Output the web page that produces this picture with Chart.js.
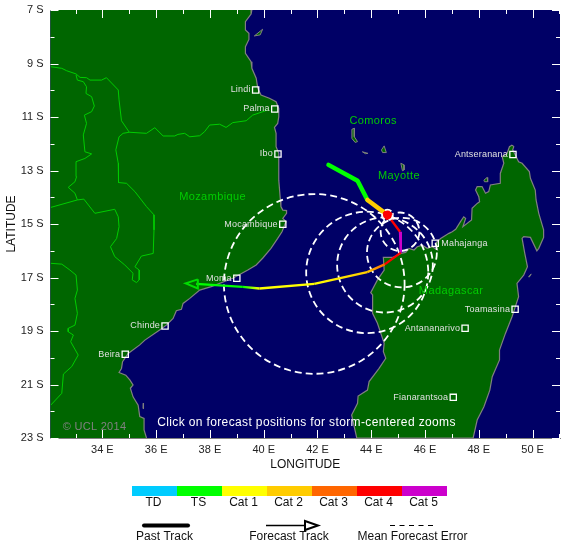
<!DOCTYPE html>
<html>
<head>
<meta charset="utf-8">
<title>Storm track</title>
<script src="https://cdn.jsdelivr.net/npm/chart.js@4"></script>
<style>
html, body { margin: 0; padding: 0; background: #fff; }
canvas { display: block; }
</style>
</head>
<body>
<canvas id="map" width="580" height="552"></canvas>
<script>
// Axis ticks (degrees east / degrees south)
const lonTicks = [33,34,35,36,37,38,39,40,41,42,43,44,45,46,47,48,49,50,51];
const latTicks = [7,8,9,10,11,12,13,14,15,16,17,18,19,20,21,22,23];
const lonLabelled = [34,36,38,40,42,44,46,48,50];
const latLabelled = [7,9,11,13,15,17,19,21,23];

// Saffir-Simpson legend
const catNames = ['TD','TS','Cat 1','Cat 2','Cat 3','Cat 4','Cat 5'];
const catColors = ['#00ccff','#00ff00','#ffff00','#ffcc00','#ff6600','#ff0000','#cc00cc'];

// Past track, with the category index of each segment
const pastLon = [42.41,43.49,43.86,44.60];
const pastLat = [12.79,13.38,14.10,14.66];
const pastCats = [1,1,3];

// Forecast track, category at the start and end of each segment
const foreLon = [44.60,45.07,45.10,44.50,43.85,41.88,39.84,39.22,37.49];
const foreLat = [14.66,15.29,16.07,16.51,16.80,17.24,17.41,17.35,17.24];
const foreCatStart = [5,6,5,4,3,2,2,1];
const foreCatEnd   = [5,6,5,3,2,2,1,1];

// Arrow head at the end of the forecast
const headLon = [37.55,37.10,37.55,37.55];
const headLat = [17.07,17.22,17.41,17.07];

// Mean forecast error circles, radius in degrees
const errLon = [41.88,43.85,44.51,45.14,45.07];
const errLat = [17.24,16.81,16.53,16.07,15.29];
const errRadius = [3.36,2.27,1.78,1.30,0.72];
// the smallest one sits around the current position, on top of the dot
const nowRadius = [0.20];

// Cities
const cityNames = ['Lindi','Palma','Ibo','Mocambique','Moma','Chinde','Beira','Antananarivo','Toamasina','Fianarantsoa','Mahajanga','Antseranana'];
const cityLon = [39.70,40.41,40.53,40.71,39.00,36.33,34.85,47.49,49.35,47.05,46.38,49.27];
const cityLat = [9.99,10.70,12.38,15.01,17.03,18.81,19.87,18.90,18.19,21.48,15.72,12.40];

// Region names
const regionNames = ['Mozambique','Comoros','Mayotte','Madagascar'];
const regionLon = [38.10,44.07,45.03,46.97];
const regionLat = [13.99,11.15,13.20,17.50];

// Coastlines [lon, lat south]
const africaCoast = [[39.56,7],[39.53,7.15],[39.32,7.44],[39.32,7.75],[39.45,7.87],[39.45,8.10],[39.32,8.37],[39.32,8.62],[39.53,8.93],[39.56,9.18],[39.72,9.55],[39.78,9.93],[39.90,10.18],[40.21,10.30],[40.46,10.43],[40.56,10.68],[40.56,10.99],[40.52,11.24],[40.40,11.39],[40.46,11.61],[40.46,12.11],[40.56,12.36],[40.56,13.36],[40.62,14.10],[40.64,14.35],[40.71,14.48],[40.85,14.50],[40.85,14.60],[40.71,14.79],[40.83,14.91],[40.68,15.29],[40.52,15.54],[40.27,15.91],[39.96,16.28],[39.72,16.53],[39.41,16.72],[38.85,17.03],[38.05,17.34],[37.62,17.47],[37.25,17.78],[37.00,17.97],[36.94,18.19],[36.75,18.24],[36.63,18.53],[36.38,18.78],[36.13,18.96],[35.58,19.34],[35.39,19.52],[34.96,19.84],[34.75,20.15],[34.71,20.40],[34.62,20.55],[34.87,20.65],[35.02,20.83],[35.14,21.02],[35.04,21.14],[35.14,21.46],[35.33,21.77],[35.39,22.20],[35.55,22.27],[35.55,22.70],[35.64,23]];
const africaCorners = [[31,23.5],[31,6.5],[39.56,6.5]];
const madagascarCoast = [[49.24,12.05],[49.30,12.11],[49.26,12.23],[49.36,12.42],[49.48,12.67],[49.61,12.73],[49.88,13.04],[49.92,13.29],[50.10,13.73],[50.13,14.10],[50.23,14.60],[50.41,15.22],[50.41,15.50],[50.23,15.91],[50.16,16.00],[49.92,15.50],[49.67,15.47],[49.61,15.54],[49.71,16.10],[49.81,16.60],[49.67,16.91],[49.42,17.22],[49.48,17.72],[49.36,18.09],[49.24,18.46],[48.99,19.09],[48.77,19.71],[48.77,20.08],[48.50,20.71],[48.41,21.21],[48.19,21.83],[47.94,22.33],[47.79,23],[43.46,23],[43.27,22.14],[43.49,21.70],[43.51,21.43],[43.86,21.21],[43.92,20.89],[44.29,20.40],[44.54,20.02],[44.45,19.77],[44.48,19.46],[44.23,18.71],[44.05,18.34],[44.05,17.65],[43.98,17.57],[44.23,17.09],[44.48,16.72],[44.45,16.25],[44.79,16.25],[45.10,16.10],[45.28,16.06],[45.40,15.91],[45.59,15.97],[45.71,15.85],[45.90,15.79],[46.08,15.91],[46.27,15.85],[46.46,15.97],[46.39,15.72],[46.58,15.54],[46.89,15.35],[47.01,15.29],[47.14,15.20],[47.32,14.91],[47.44,14.73],[47.51,14.79],[47.41,15.10],[47.73,14.85],[47.75,14.41],[47.94,14.23],[48.03,14.17],[48.00,13.98],[47.88,13.73],[47.94,13.60],[48.12,13.60],[48.25,13.85],[48.37,13.79],[48.43,13.54],[48.80,13.48],[48.80,13.11],[48.93,12.73],[48.87,12.48],[49.05,12.36],[49.14,12.11],[49.24,12.05]];
const islands = [
  [[43.28,11.46],[43.37,11.42],[43.37,11.74],[43.49,11.92],[43.40,11.95],[43.28,11.80],[43.28,11.46]],
  [[43.67,12.30],[43.88,12.36],[43.78,12.37],[43.67,12.30]],
  [[44.38,12.23],[44.48,12.08],[44.56,12.33],[44.42,12.33],[44.38,12.23]],
  [[45.10,12.73],[45.22,12.79],[45.22,12.98],[45.16,13.01],[45.10,12.73]],
  [[48.19,13.36],[48.31,13.26],[48.33,13.42],[48.21,13.42],[48.19,13.36]],
  [[39.65,7.97],[39.96,7.72],[39.87,7.93],[39.65,7.97]],
  [[49.85,16.97],[49.95,16.87],[49.88,16.98],[49.85,16.97]],
  [[35.52,21.70],[35.53,21.90],[35.51,21.90],[35.52,21.70]]
];

// Country borders
const borderMain = [[40.15,10.74],[39.59,10.93],[39.35,11.14],[38.85,11.21],[38.60,11.39],[38.36,11.27],[37.99,11.30],[37.80,11.55],[37.62,11.70],[37.25,11.74],[37.06,11.61],[36.81,11.65],[36.69,11.71],[36.26,11.71],[35.95,11.40],[35.64,11.61],[35.00,11.57],[34.77,11.61],[34.62,11.74],[34.50,12.23],[34.59,12.73],[34.60,13.45],[34.90,13.48],[35.21,13.79],[35.64,14.35],[35.92,14.66],[35.92,15.22],[35.89,16.10],[35.45,16.20],[35.21,16.60],[35.37,16.72],[35.37,17.09],[35.27,17.19],[35.11,17.09],[35.14,16.84],[34.83,16.53],[34.46,16.22],[34.30,15.85],[34.53,15.54],[34.62,15.10],[34.59,14.73],[34.46,14.45],[33.72,14.60],[33.31,14.07],[33.07,14.10],[32.98,13.85],[32.73,13.63],[32.98,13.42],[33.04,13.23],[33.02,12.67],[33.35,12.55],[33.60,12.38],[33.35,12.30],[33.29,11.67],[33.41,11.24],[33.33,10.93],[33.60,10.80],[33.70,10.59],[33.60,10.24],[33.39,10.12],[33.41,9.87],[33.29,9.68],[33.07,9.62],[33.02,9.43]];
const borderLake = [[35.00,11.57],[34.71,11.14],[34.62,10.36],[34.59,9.99],[34.15,9.53],[33.97,9.62],[33.54,9.62],[33.41,9.53],[33.17,9.52],[33.02,9.39],[32.67,9.27],[32.49,9.18],[32.08,9.12]];
const borderZambia = [[32.08,14.38],[33.07,14.10]];
const borderZimbabwe = [[32.08,16.47],[32.49,16.50],[32.79,16.72],[33.02,16.91],[33.07,17.47],[32.98,17.78],[33.07,18.34],[32.98,18.78],[32.73,18.90],[32.73,19.03],[32.92,19.15],[32.82,19.40],[33.10,19.90],[32.86,20.33],[32.55,20.61],[32.49,21.33],[32.08,21.77]];

const AXIS_FONT = 'Liberation Sans, Arial, sans-serif';
const toXY = pts => pts.map(p => ({x: p[0], y: p[1]}));
const zip = (xs, ys) => xs.map((x, i) => ({x, y: ys[i]}));

function landSet(pts){
  return {data: toXY(pts), showLine: true, fill: 'shape', backgroundColor: '#006600', borderColor: 'rgba(0,0,0,0)', borderWidth: 0, pointRadius: 0, tension: 0};
}
function lineSet(pts, color, width){
  return {data: toXY(pts), showLine: true, fill: false, borderColor: color, borderWidth: width, pointRadius: 0, tension: 0};
}

// colours a segment from one category colour to the next
function segColor(c){
  const i = c.p0DataIndex;
  const a = catColors[foreCatStart[i]], b = catColors[foreCatEnd[i]];
  if(a === b) return a;
  const g = c.chart.ctx.createLinearGradient(c.p0.x, c.p0.y, c.p1.x, c.p1.y);
  g.addColorStop(0, a);
  g.addColorStop(1, b);
  return g;
}

// the first dataset in the list is painted last
const datasets = [
  {label: 'cities', data: zip(cityLon, cityLat), showLine: false, pointStyle: 'rect', pointRadius: 4.4, borderWidth: 1.3, pointBorderColor: '#ffffff', pointBackgroundColor: 'rgba(0,0,0,0)'},
  {label: 'current', data: [{x: pastLon[3], y: pastLat[3]}], showLine: false, pointRadius: 4.5, pointBackgroundColor: catColors[5], pointBorderColor: catColors[5]},
  {label: 'past', data: zip(pastLon, pastLat), showLine: true, borderWidth: 4.5, borderCapStyle: 'round', borderJoinStyle: 'round', pointRadius: 0, tension: 0, borderColor: catColors[1],
    segment: {borderColor: c => catColors[pastCats[c.p0DataIndex]]}},
  {label: 'head', data: zip(headLon, headLat), showLine: true, borderColor: '#00dd00', borderWidth: 2, pointRadius: 0, tension: 0},
  {label: 'forecast', data: zip(foreLon, foreLat), showLine: true, borderWidth: 2.4, pointRadius: 0, tension: 0, borderColor: catColors[5],
    segment: {borderColor: segColor}},
  lineSet(borderMain, '#00cc00', 1),
  lineSet(borderLake, '#00cc00', 1),
  lineSet(borderZambia, '#00cc00', 1),
  lineSet(borderZimbabwe, '#00cc00', 1),
  lineSet(africaCoast, '#808080', 1.2),
  lineSet(madagascarCoast, '#808080', 1.2)
];
islands.forEach(isl => datasets.push(Object.assign(landSet(isl), {borderColor: '#808080', borderWidth: 1})));
datasets.push(landSet(madagascarCoast));
datasets.push(landSet(africaCoast.concat(africaCorners)));

function drawText(ctx, txt, x, y, font, color, align, spacing){
  ctx.font = font;
  ctx.fillStyle = color;
  ctx.textAlign = align || 'center';
  ctx.textBaseline = 'middle';
  ctx.letterSpacing = spacing || '0px';
  ctx.fillText(txt, x, y);
  ctx.letterSpacing = '0px';
}

function drawCircles(chart, lons, lats, radii){
  const {ctx, chartArea: a, scales: {x, y}} = chart;
  const pxLon = Math.abs(x.getPixelForValue(1) - x.getPixelForValue(0));
  const pxLat = Math.abs(y.getPixelForValue(1) - y.getPixelForValue(0));
  ctx.save();
  ctx.beginPath();
  ctx.rect(a.left, a.top, a.width, a.height);
  ctx.clip();
  ctx.strokeStyle = '#ffffff';
  ctx.lineWidth = 1.8;
  ctx.setLineDash([7, 4]);
  lons.forEach((lon, i) => {
    ctx.beginPath();
    ctx.ellipse(x.getPixelForValue(lon), y.getPixelForValue(lats[i]), radii[i] * pxLon, radii[i] * pxLat, 0, 0, Math.PI * 2);
    ctx.stroke();
  });
  ctx.restore();
}

// ocean, error circles, inward ticks, map labels and the legend block
const mapPlugin = {
  id: 'mapPlugin',
  beforeDatasetsDraw(chart){
    const {ctx, chartArea: a} = chart;
    ctx.save();
    ctx.fillStyle = '#000066';
    ctx.fillRect(a.left, a.top, a.width, a.height);
    ctx.restore();
  },
  beforeDatasetDraw(chart, args){
    if(chart.data.datasets[args.index].label === 'forecast') drawCircles(chart, errLon, errLat, errRadius);
  },
  afterDatasetDraw(chart, args){
    if(chart.data.datasets[args.index].label === 'current') drawCircles(chart, [pastLon[3]], [pastLat[3]], nowRadius);
  },
  afterDatasetsDraw(chart){
    const {ctx, chartArea: a, scales: {x, y}} = chart;
    ctx.save();
    // ticks point inwards on all four sides
    ctx.strokeStyle = '#ffffff';
    ctx.lineWidth = 1;
    ctx.beginPath();
    lonTicks.forEach(v => {
      const p = Math.round(x.getPixelForValue(v)) + 0.5;
      const len = lonLabelled.includes(v) ? 8 : 4;
      ctx.moveTo(p, a.top); ctx.lineTo(p, a.top + len);
      ctx.moveTo(p, a.bottom); ctx.lineTo(p, a.bottom - len);
    });
    latTicks.forEach(v => {
      const p = Math.round(y.getPixelForValue(v)) + 0.5;
      const len = latLabelled.includes(v) ? 8 : 4;
      ctx.moveTo(a.left, p); ctx.lineTo(a.left + len, p);
      ctx.moveTo(a.right, p); ctx.lineTo(a.right - len, p);
    });
    ctx.stroke();

    // city names
    cityNames.forEach((name, i) => {
      const cx = x.getPixelForValue(cityLon[i]), cy = y.getPixelForValue(cityLat[i]);
      if(name === 'Mahajanga') drawText(ctx, name, cx + 6, cy, '9px ' + AXIS_FONT, '#e0e0e0', 'left', '0.2px');
      else drawText(ctx, name, cx - 5, cy, '9px ' + AXIS_FONT, '#e0e0e0', 'right', '0.2px');
    });
    regionNames.forEach((name, i) => {
      drawText(ctx, name, x.getPixelForValue(regionLon[i]), y.getPixelForValue(regionLat[i]), '11px ' + AXIS_FONT, '#00cc00', 'center', '0.4px');
    });
    drawText(ctx, 'Click on forecast positions for storm-centered zooms', 306.5, 423, '12px ' + AXIS_FONT, '#ffffff', 'center', '0.37px');
    drawText(ctx, '© UCL 2014', 94.5, 427, '11px ' + AXIS_FONT, '#808080', 'center', '0.3px');

    // category bar
    catColors.forEach((c, i) => {
      ctx.fillStyle = c;
      ctx.fillRect(132 + i * 45, 486, 45, 10);
      drawText(ctx, catNames[i], 153.5 + i * 45, 503, '12px ' + AXIS_FONT, '#111111');
    });

    // line samples
    ctx.lineCap = 'round';
    ctx.strokeStyle = '#000000';
    ctx.lineWidth = 4;
    ctx.beginPath(); ctx.moveTo(144, 525.5); ctx.lineTo(188, 525.5); ctx.stroke();
    ctx.lineCap = 'butt';
    ctx.lineWidth = 1.5;
    ctx.beginPath(); ctx.moveTo(266, 525.5); ctx.lineTo(305, 525.5); ctx.stroke();
    ctx.lineWidth = 2;
    ctx.beginPath(); ctx.moveTo(305, 521); ctx.lineTo(318, 525.5); ctx.lineTo(305, 530); ctx.closePath(); ctx.stroke();
    ctx.lineWidth = 1;
    ctx.setLineDash([5, 4.5]);
    ctx.beginPath(); ctx.moveTo(390, 525.5); ctx.lineTo(436, 525.5); ctx.stroke();
    ctx.setLineDash([]);
    drawText(ctx, 'Past Track', 164.5, 537, '12px ' + AXIS_FONT, '#111111');
    drawText(ctx, 'Forecast Track', 289, 537, '12px ' + AXIS_FONT, '#111111');
    drawText(ctx, 'Mean Forecast Error', 412.5, 537, '12px ' + AXIS_FONT, '#111111');
    ctx.restore();
  }
};

new Chart(document.getElementById('map').getContext('2d'), {
  type: 'scatter',
  data: {datasets},
  plugins: [mapPlugin],
  options: {
    responsive: false,
    animation: false,
    layout: {padding: {left: 0, right: 20, top: 10, bottom: 74}},
    plugins: {legend: {display: false}, tooltip: {enabled: false}},
    scales: {
      x: {
        type: 'linear', min: 32.07, max: 51.02,
        afterBuildTicks: s => { s.ticks = lonTicks.map(value => ({value})); },
        afterFit: s => { s.height = 40; s.paddingLeft = 0; s.paddingRight = 0; },
        grid: {drawOnChartArea: false, drawTicks: false},
        border: {display: true, color: '#808080', width: 1},
        ticks: {autoSkip: false, maxRotation: 0, padding: 5, color: '#222222', font: {family: AXIS_FONT, size: 11},
          callback: v => lonLabelled.includes(v) ? v + ' E' : ''},
        title: {display: true, text: 'LONGITUDE', color: '#111111', font: {family: AXIS_FONT, size: 12}, padding: {top: 0, bottom: 6}}
      },
      y: {
        type: 'linear', min: 7, max: 23, reverse: true,
        afterBuildTicks: s => { s.ticks = latTicks.map(value => ({value})); },
        afterFit: s => { s.width = 50.5; s.paddingTop = 0; s.paddingBottom = 0; },
        grid: {drawOnChartArea: false, drawTicks: false},
        border: {display: true, color: '#808080', width: 1},
        ticks: {autoSkip: false, padding: 7, color: '#222222', font: {family: AXIS_FONT, size: 11},
          callback: v => latLabelled.includes(v) ? v + ' S' : ''},
        title: {display: true, text: 'LATITUDE', color: '#111111', font: {family: AXIS_FONT, size: 12}, padding: {top: 4, bottom: 0}}
      }
    }
  }
});
</script>
</body>
</html>
